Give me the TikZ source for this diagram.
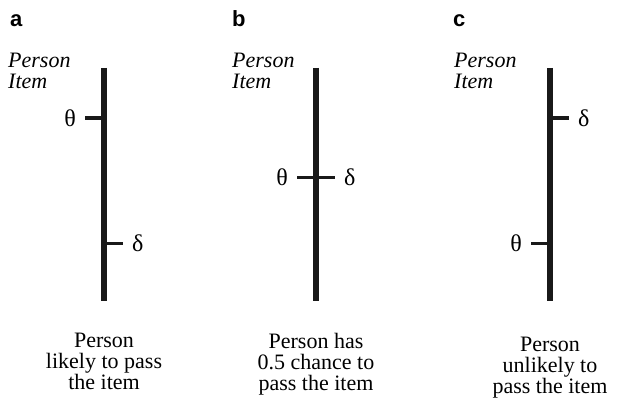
\documentclass[tikz,border=0pt]{standalone}
\usepackage{fontspec}
\setmainfont{Liberation Serif}
\setsansfont{Liberation Sans}
\usepackage{tikz}
\usetikzlibrary{positioning}
\definecolor{casinegro}{rgb}{0.1, 0.1, 0.1}
\tikzset{
  eje/.style={
    line width=6pt,
    casinegro
  },
  marca/.style={
    line width=3pt,
    casinegro
  },
  letra/.style={
    anchor=base west,
    inner sep=0pt,
    font=\sffamily\bfseries\fontsize{22}{22}\selectfont
  },
  rotulo/.style={
    anchor=base west,
    align=left,
    inner sep=0pt,
    font=\itshape\fontsize{22}{21}\selectfont
  },
  simbolo/.style={
    inner sep=0pt,
    font=\fontsize{24}{24}\selectfont
  },
  leyenda/.style={
    anchor=base,
    align=center,
    inner sep=0pt,
    font=\fontsize{22}{21}\selectfont
  }
}

\begin{document}
\begin{tikzpicture}[x=1pt, y=-1pt, node distance=9pt]
\useasboundingbox (0,0) rectangle (631,401);
% a
\node[letra] (la) at (10,27) {a};
\node[rotulo] (ra) at (8,89) {Person\\Item};
\coordinate (a0) at (104,68);
\coordinate (a1) at (104,301);
\draw[eje] (a0) -- (a1);
\coordinate (at) at (104,118);
\coordinate (atx) at (85,118);
\coordinate (ad) at (104,243);
\coordinate (adx) at (123,243);
\draw[marca] (at) -- (atx);
\draw[marca] (ad) -- (adx);
\node[simbolo, left=of atx] (tha) {θ};
\node[simbolo, right=of adx] (dea) {δ};
\node[leyenda] (pa) at (104,389) {Person\\likely to pass\\the item};
% b
\node[letra] (lb) at (232,27) {b};
\node[rotulo] (rb) at (232,89) {Person\\Item};
\coordinate (b0) at (316,68);
\coordinate (b1) at (316,301);
\draw[eje] (b0) -- (b1);
\coordinate (btx) at (297,177);
\coordinate (bdx) at (335,177);
\draw[marca] (btx) -- (bdx);
\node[simbolo, left=of btx] (thb) {θ};
\node[simbolo, right=of bdx] (deb) {δ};
\node[leyenda] (pb) at (316,390) {Person has\\0.5 chance to\\pass the item};
% c
\node[letra] (lc) at (453,27) {c};
\node[rotulo] (rc) at (454,89) {Person\\Item};
\coordinate (c0) at (550,68);
\coordinate (c1) at (550,301);
\draw[eje] (c0) -- (c1);
\coordinate (cd) at (550,118);
\coordinate (cdx) at (569,118);
\coordinate (ct) at (550,243);
\coordinate (ctx) at (531,243);
\draw[marca] (cd) -- (cdx);
\draw[marca] (ct) -- (ctx);
\node[simbolo, right=of cdx] (dec) {δ};
\node[simbolo, left=of ctx] (thc) {θ};
\node[leyenda] (pc) at (550,393) {Person\\unlikely to\\pass the item};
\end{tikzpicture}
\end{document}
